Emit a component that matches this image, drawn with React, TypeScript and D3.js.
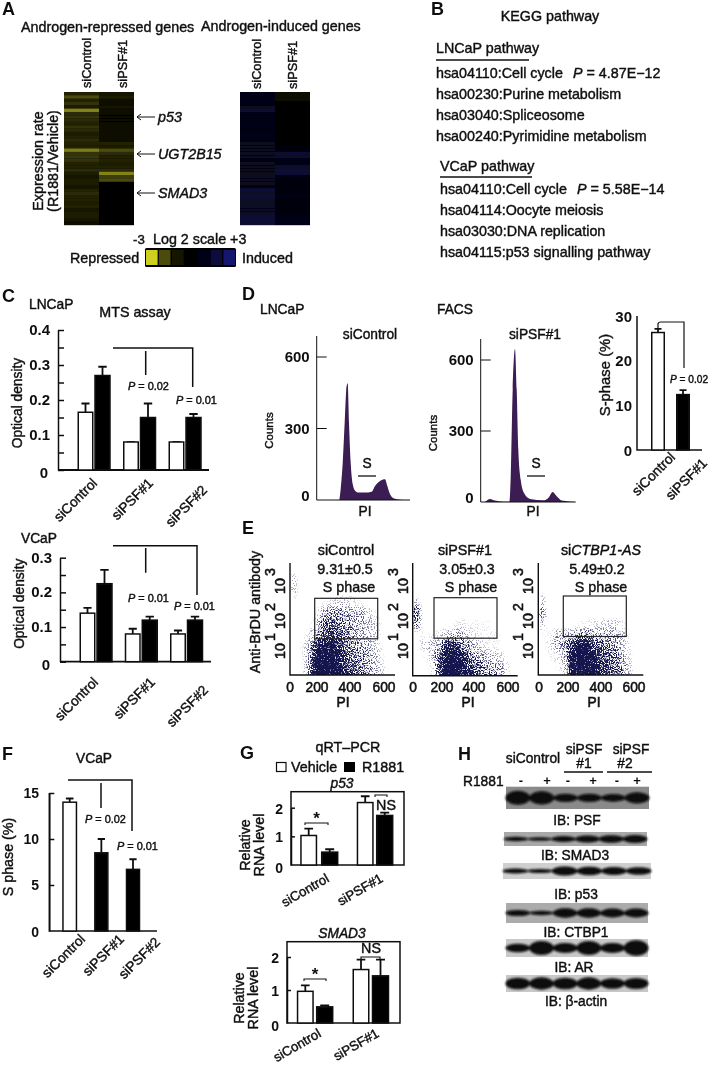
import { useEffect, useRef } from "react"
import * as d3 from "d3"

// Panel A heat map, log2 values per row (negative = repressed/yellow, positive = induced/blue)
const repressedControl = [-0.5, -1.1, -0.5, -0.7, -0.4, -1.9, -0.6, -0.7, -0.6, -0.5, -0.7, -0.6, -0.4, -0.5, -0.6, -0.5, -0.5, -1.8, -0.7, -0.8, -0.7, -0.5, -0.5, -0.6, -0.4, -0.3, -0.4, -0.4, -0.3, -0.5, -0.6, -0.5, -0.5, -0.4, -0.5, -0.3, -0.4, -0.4, -0.3, -0.2]
const repressedPsf = [-0.3, -0.4, -0.2, -0.2, -0.3, -0.15, -0.1, -0.1, -0.1, -0.15, -0.2, -0.2, -0.15, -0.15, -0.2, -0.5, -0.4, -1.1, -0.6, -0.5, -0.5, -0.4, -0.5, -0.6, -1.9, -0.9, -1.1, 0, -0.05, 0, 0, -0.05, 0, -0.05, 0, 0, 0, 0, 0, 0]
const inducedControl = [0.2, 0.2, 0.2, 0.25, 0.3, 0.5, 0.25, 0.2, 0.2, 0.2, 0.2, 0.2, 0.25, 0.25, 0.2, 0.3, 0.3, 0.3, 0.35, 0.3, 0.25, 0.3, 0.3, 0.3, 0.3, 0.35, 0.3, 0.3, 0.25, 0.6, 0.4, 0.6, 0.4, 0.35, 0.4, 0.35, 0.4, 0.5, 0.6, 0.5]
const inducedPsf = [-0.1, -0.2, -0.1, -0.05, 0, 0, 0, 0, 0, 0, 0, 0, 0, 0, 0, 0.05, 0.1, 0.15, 0.5, 0.4, 0.25, 0.25, 0.45, 0.55, 0.5, 0.2, 0.15, 0.1, 0.1, 0.15, 0.15, 0.2, 0.1, 0.1, 0.15, 0.1, 0.15, 0.2, 0.25, 0.2]
const heatLegend = [-3, -1.1, -0.3, 0, 0.2, 0.6, 1.1]

// Panel B
const lncapPathways = ["hsa04110:Cell cycle", "hsa00230:Purine metabolism", "hsa03040:Spliceosome", "hsa00240:Pyrimidine metabolism"]
const vcapPathways = ["hsa04110:Cell cycle", "hsa04114:Oocyte meiosis", "hsa03030:DNA replication", "hsa04115:p53 signalling pathway"]

// Panel C, MTS assay
const mtsGroups = ["siControl", "siPSF#1", "siPSF#2"]
const lncapVehicle = [0.165, 0.08, 0.08]
const lncapVehicleErr = [0.19, 0.08, 0.08]
const lncapR1881 = [0.27, 0.15, 0.15]
const lncapR1881Err = [0.295, 0.19, 0.16]
const vcapVehicle = [0.14, 0.08, 0.08]
const vcapVehicleErr = [0.155, 0.095, 0.09]
const vcapR1881 = [0.225, 0.12, 0.12]
const vcapR1881Err = [0.265, 0.13, 0.13]

// Panel D, cell cycle profiles: PI channel (0-100) against counts
const controlChannel = [24.3, 25.7, 27.9, 30, 32.1, 33.2, 34.6, 36.4, 38.6, 41, 44.6, 51.8, 58.9, 62.5, 67.9, 73.2, 75.7, 78.6, 82.9, 89.3, 100]
const controlCounts = [0, 45, 157, 325, 479, 490, 325, 157, 66, 40, 31, 31, 35, 59, 80, 87, 59, 24, 6, 1, 0]
const psfChannel = [4.6, 9.8, 15, 23.9, 30.2, 31.6, 33.7, 36.1, 37.9, 39.6, 42.1, 45.6, 51.9, 66, 71.2, 75.8, 80, 85.3, 100]
const psfCounts = [0, 13, 6, 1, 1, 108, 474, 646, 474, 221, 94, 38, 13, 7, 17, 42, 24, 6, 0]
const sPhaseGroups = ["siControl", "siPSF#1"]
const sPhaseValues = [26.5, 12.5]
const sPhaseErr = [27.3, 13.5]

// Panel E, dot density: rows top to bottom, columns by PI in steps of 50
const densityControl = [
  [0.05, 0.02],
  [0.25, 0],
  [0.25, 0, 0, 0.02, 0.02, 0.02, 0.05, 0.05, 0.03, 0.02],
  [0.12, 0, 0, 0.05, 0.1, 0.15, 0.2, 0.2, 0.15, 0.1, 0.05, 0.02],
  [0.03, 0, 0, 0.1, 0.3, 0.4, 0.4, 0.35, 0.3, 0.3, 0.2, 0.1, 0.03],
  [0.02, 0, 0.05, 0.2, 0.5, 0.6, 0.5, 0.4, 0.35, 0.3, 0.25, 0.2, 0.05],
  [0.03, 0.05, 0.15, 0.3, 0.6, 0.7, 0.55, 0.45, 0.35, 0.3, 0.25, 0.2, 0.08],
  [0.03, 0.1, 0.25, 0.7, 0.9, 0.9, 0.7, 0.5, 0.4, 0.35, 0.3, 0.2, 0.08],
  [0.02, 0.08, 0.3, 0.95, 1, 1, 0.8, 0.6, 0.5, 0.4, 0.35, 0.25, 0.1, 0.02],
  [0.02, 0.05, 0.35, 1, 1, 1, 0.9, 0.7, 0.55, 0.45, 0.35, 0.25, 0.15, 0.03],
  [0.02, 0.05, 0.4, 1, 1, 1, 0.95, 0.75, 0.6, 0.5, 0.4, 0.3, 0.15, 0.03],
]
const densityPsf = [
  [],
  [],
  [],
  [0.25, 0.02, 0, 0.01, 0.01, 0.01, 0.02, 0.02, 0.02, 0.01],
  [0.6, 0.02, 0, 0.02, 0.02, 0.03, 0.05, 0.04, 0.05, 0.05, 0.03],
  [0.45, 0.03, 0.02, 0.03, 0.05, 0.1, 0.15, 0.1, 0.12, 0.1, 0.1, 0.05],
  [0.1, 0.1, 0.1, 0.15, 0.25, 0.3, 0.3, 0.2, 0.15, 0.12, 0.12, 0.1, 0.03],
  [0.05, 0.2, 0.25, 0.3, 0.7, 0.8, 0.5, 0.35, 0.25, 0.15, 0.12, 0.1, 0.05],
  [0.03, 0.1, 0.2, 0.5, 1, 1, 0.8, 0.5, 0.4, 0.3, 0.25, 0.2, 0.1],
  [0.02, 0.05, 0.12, 0.55, 1, 1, 1, 0.7, 0.55, 0.4, 0.35, 0.35, 0.2, 0.02],
  [0.02, 0.03, 0.1, 0.6, 1, 1, 1, 0.85, 0.7, 0.55, 0.45, 0.35, 0.2, 0.03],
]
const densityCtbp = [
  [],
  [],
  [0.1],
  [0.25, 0, 0, 0.01, 0.02, 0.02, 0.02, 0.02],
  [0.4, 0, 0.02, 0.02, 0.02, 0.03, 0.05, 0.05, 0.05, 0.03, 0.02],
  [0.25, 0.02, 0.03, 0.03, 0.05, 0.1, 0.12, 0.15, 0.2, 0.2, 0.2, 0.1, 0.03],
  [0.1, 0.1, 0.3, 0.25, 0.3, 0.4, 0.4, 0.35, 0.3, 0.3, 0.3, 0.2, 0.05],
  [0.05, 0.15, 0.3, 0.35, 0.7, 1, 1, 0.6, 0.5, 0.45, 0.35, 0.2, 0.1],
  [0.03, 0.1, 0.15, 0.25, 0.9, 1, 1, 0.8, 0.65, 0.55, 0.45, 0.25, 0.1],
  [0.02, 0.05, 0.1, 0.2, 0.9, 1, 1, 0.95, 0.7, 0.6, 0.5, 0.35, 0.15, 0.02],
  [0.02, 0.05, 0.05, 0.2, 0.9, 1, 1, 1, 0.75, 0.65, 0.5, 0.35, 0.15, 0.03],
]
const piTicks = [0, 200, 400, 600]

// Panel F
const vcapPhaseValues = [14, 8.5, 6.7]
const vcapPhaseErr = [14.4, 10, 7.8]

// Panel G, qRT-PCR
const pcrGroups = ["siControl", "siPSF#1"]
const p53Vehicle = [1.03, 2.18]
const p53VehicleErr = [1.27, 2.4]
const p53R1881 = [0.45, 1.73]
const p53R1881Err = [0.55, 1.83]
const smad3Vehicle = [0.96, 1.62]
const smad3VehicleErr = [1.14, 1.92]
const smad3R1881 = [0.49, 1.43]
const smad3R1881Err = [0.53, 1.92]

// Panel H, band strength per lane
const r1881Signs = ["-", "+", "-", "+", "-", "+"]
const psfBands = [1, 0.95, 0.6, 0.6, 0.55, 0.8]
const smad3Bands = [0.45, 0.35, 0.6, 0.7, 0.75, 0.8]
const p53Bands = [0.5, 0.4, 0.9, 0.85, 0.8, 0.75]
const ctbp1Bands = [0.55, 0.4, 0.85, 0.85, 0.8, 0.8]
const arBands = [0.6, 1, 0.7, 1, 0.7, 1.1]
const actinBands = [0.9, 0.95, 0.9, 0.95, 0.8, 0.85]

const FONT = "'Liberation Sans', Arial, sans-serif"

const App = () => {
  const svgRef = useRef(null)

  useEffect(() => {
    const svg = d3.select(svgRef.current)
    svg.selectAll("*").remove()

    const defs = svg.append("defs")
    const soft = defs.append("filter").attr("id", "soft").attr("x", 0).attr("y", 0).attr("width", "100%").attr("height", "100%")
    soft.append("feGaussianBlur").attr("stdDeviation", 0.45)
    const band = defs.append("filter").attr("id", "band").attr("x", "-20%").attr("y", "-60%").attr("width", "140%").attr("height", "220%")
    band.append("feGaussianBlur").attr("stdDeviation", 1.3)

    // dithers a blurred density field into specks
    const speck = defs
      .append("filter")
      .attr("id", "speck")
      .attr("x", "-5%")
      .attr("y", "-5%")
      .attr("width", "110%")
      .attr("height", "110%")
      .attr("color-interpolation-filters", "sRGB")
    speck.append("feGaussianBlur").attr("in", "SourceAlpha").attr("stdDeviation", 2.5).attr("result", "field")
    speck.append("feTurbulence").attr("type", "fractalNoise").attr("baseFrequency", 0.85).attr("numOctaves", 2).attr("seed", 4).attr("result", "noise")
    speck
      .append("feColorMatrix")
      .attr("in", "noise")
      .attr("type", "matrix")
      .attr("values", "0 0 0 0 0  0 0 0 0 0  0 0 0 0 0  2.8 0 0 0 -0.75")
      .attr("result", "grain")
    speck.append("feComposite").attr("in", "field").attr("in2", "grain").attr("operator", "arithmetic").attr("k1", 0).attr("k2", 1.3).attr("k3", 1).attr("k4", -1.1).attr("result", "mix")
    const steep = speck.append("feComponentTransfer").attr("in", "mix").attr("result", "dots")
    steep.append("feFuncA").attr("type", "linear").attr("slope", 2.5)
    speck.append("feFlood").attr("flood-color", "#17174f").attr("result", "ink")
    speck.append("feComposite").attr("in", "ink").attr("in2", "dots").attr("operator", "in")

    const root = svg.append("g").attr("filter", "url(#soft)")
    root.append("rect").attr("width", 712).attr("height", 1068).attr("fill", "white")

    const label = (x, y, str, o: any = {}) => {
      const t = root
        .append("text")
        .attr("x", x)
        .attr("y", y)
        .attr("font-family", FONT)
        .attr("font-size", o.bold ? o.size || 13 : (o.size || 13) * 1.06)
        .attr("font-weight", o.bold ? 700 : 400)
        .attr("font-style", o.italic ? "italic" : "normal")
        .attr("text-anchor", o.anchor || "start")
        .attr("fill", "#111")
        .attr("stroke", "#111")
        .attr("stroke-width", o.bold ? 0 : o.stroke ?? 0.42)
        .text(str)
      if (o.rotate) t.attr("transform", `rotate(${o.rotate},${x},${y})`)
      return t
    }
    const pValue = (x, y, rest, size = 10.3) => {
      const t = label(x, y, "", { size })
      t.append("tspan").attr("font-style", "italic").text("P")
      t.append("tspan").text(rest)
    }
    const seg = (path, width = 1.5) => {
      root.append("path").attr("d", path).attr("fill", "none").attr("stroke", "#111").attr("stroke-width", width)
    }
    const panelLetter = (x, y, s) => label(x, y, s, { size: 18, bold: true })

    // ---------- A
    panelLetter(2, 15, "A")
    label(21, 32, "Androgen-repressed genes", { size: 13.5 })
    label(201, 31, "Androgen-induced genes", { size: 13.5 })

    const heatColor = (v) => (v < 0 ? d3.interpolateRgb("#000000", "#cfcf22")(Math.min(1, -v / 3)) : d3.interpolateRgb("#000000", "#1f1f8c")(Math.min(1, v / 1.4)))
    const heatmap = (left, columns) => {
      const x = d3.scaleBand().domain(d3.range(2)).range([left, left + 70])
      const y = d3.scaleBand().domain(d3.range(40)).range([92, 225])
      root.append("rect").attr("x", left).attr("y", 92).attr("width", 70).attr("height", 133).attr("fill", "#000")
      columns.forEach((col, c) => {
        root
          .append("g")
          .selectAll("rect")
          .data(col)
          .join("rect")
          .attr("x", x(c))
          .attr("y", (_, i) => y(i))
          .attr("width", x.bandwidth())
          .attr("height", y.bandwidth() + 0.2)
          .attr("fill", (d) => heatColor(d))
      })
    }
    heatmap(64, [repressedControl, repressedPsf])
    heatmap(240, [inducedControl, inducedPsf])

    label(91, 88, "siControl", { size: 12, rotate: -90 })
    label(127, 88, "siPSF#1", { size: 12, rotate: -90 })
    label(261, 89, "siControl", { size: 12, rotate: -90 })
    label(297, 89, "siPSF#1", { size: 12, rotate: -90 })
    label(43, 161, "Expression rate", { size: 13.5, anchor: "middle", rotate: -90 })
    label(58, 161, "(R1881/Vehicle)", { size: 13.5, anchor: "middle", rotate: -90 })

    ;[
      ["p53", 117],
      ["UGT2B15", 154],
      ["SMAD3", 193],
    ].forEach(([gene, yy]: any) => {
      seg(`M155,${yy}H137M141,${yy - 3}L137,${yy}L141,${yy + 3}`, 1)
      label(158, yy + 5, gene, { size: 13.5, italic: true })
    })

    label(133, 244, "-3", { size: 12.5 })
    label(153, 244, "Log 2 scale +3", { size: 13.5 })
    label(70, 263, "Repressed", { size: 13.5 })
    label(242, 263, "Induced", { size: 13.5 })
    root.append("rect").attr("x", 145).attr("y", 248).attr("width", 91).attr("height", 19).attr("rx", 1.5).attr("fill", "#000")
    const legendX = d3.scaleBand().domain(d3.range(heatLegend.length)).range([146, 235]).paddingInner(0.1)
    root
      .append("g")
      .selectAll("rect")
      .data(heatLegend)
      .join("rect")
      .attr("x", (_, i) => legendX(i))
      .attr("y", 250)
      .attr("width", legendX.bandwidth())
      .attr("height", 15)
      .attr("fill", (d) => heatColor(d))

    // ---------- B
    panelLetter(431, 15, "B")
    label(550, 21, "KEGG pathway", { size: 13.5, anchor: "middle" })
    const pathwayBlock = (x, yTitle, name, yUnder, under, items, yFirst, pX, pText) => {
      label(x, yTitle, name, { size: 13.5 })
      seg(`M${x},${yUnder}H${under}`, 1.4)
      const rows = d3.scaleLinear().domain([0, 3]).range([yFirst, yFirst + 62.5])
      items.forEach((s, i) => label(x, rows(i), s, { size: 13.5 }))
      pValue(pX, yFirst, pText, 13.5)
    }
    pathwayBlock(436, 53, "LNCaP pathway", 60, 529, lncapPathways, 78, 573, " = 4.87E\u221212")
    pathwayBlock(440, 171, "VCaP pathway", 177, 532, vcapPathways, 194, 577, " = 5.58E\u221214")

    // ---------- bar helpers
    const valueAxis = (x, y, ticks, len = 6, w = 1.5) => {
      const g = root.append("g").attr("transform", `translate(${x},0)`)
      g.call(d3.axisRight(y).tickValues(ticks).tickSize(len).tickFormat(() => "").tickSizeOuter(0))
      g.selectAll("line,path").attr("stroke", "#111").attr("stroke-width", w)
    }
    const bars = (x, y, w, values, errs, fill) => {
      const g = root.append("g")
      values.forEach((v, i) => {
        g.append("path")
          .attr("d", `M${x(i)},${y(errs[i])}V${y(v)}M${x(i) - w * 0.28},${y(errs[i])}H${x(i) + w * 0.28}`)
          .attr("stroke", "#111")
          .attr("stroke-width", 1.8)
          .attr("fill", "none")
        g.append("rect")
          .attr("x", x(i) - w / 2)
          .attr("y", y(v))
          .attr("width", w)
          .attr("height", y(0) - y(v))
          .attr("fill", fill)
          .attr("stroke", "#111")
          .attr("stroke-width", 1.5)
      })
    }
    const slanted = (x, y, s, angle = -45, size = 13) => label(x, y, s, { size, anchor: "end", rotate: angle })

    // ---------- C
    panelLetter(2, 302, "C")
    label(29, 309, "LNCaP", { size: 13 })
    label(135, 317, "MTS assay", { size: 13.5, anchor: "middle" })

    const mtsPanel = (cfg) => {
      const y = d3.scaleLinear().domain([0, cfg.max]).range([cfg.y0, cfg.yTop])
      const g = d3.scalePoint().domain(d3.range(3)).range(cfg.centers)
      seg(`M${cfg.axisX},${y(0)}H${cfg.axisEnd}`, 1.8)
      valueAxis(cfg.axisX, y, d3.range(0, cfg.max + 0.001, 0.05))
      bars((i) => g(i) - 8.5, y, 14.5, cfg.vehicle, cfg.vehicleErr, "white")
      bars((i) => g(i) + 8.5, y, 15, cfg.r1881, cfg.r1881Err, "#000")
      d3.range(0, cfg.max + 0.001, 0.1).forEach((v) => {
        label(v === 0 ? cfg.axisX - 10 : cfg.axisX - 8, y(v) + (v === 0 ? 8 : 5), v === 0 ? "0" : d3.format(".1f")(v), { size: 15, bold: true, anchor: "end" })
      })
      label(cfg.axisX - 36, (y(0) + y(cfg.max)) / 2 + 3 + cfg.labelShift, "Optical density", { size: 13, anchor: "middle", rotate: -90 })
      mtsGroups.forEach((s, i) => slanted(cfg.labelEnds[i][0], cfg.labelEnds[i][1], s))
    }
    mtsPanel({ max: 0.4, y0: 470, yTop: 330, axisX: 58, axisEnd: 209, centers: [94, 185], vehicle: lncapVehicle, vehicleErr: lncapVehicleErr, r1881: lncapR1881, r1881Err: lncapR1881Err, labelShift: 0, labelEnds: [[98, 484], [154, 484], [208, 491]] })
    seg("M113,348H192.7V387M145.7,351V375")
    pValue(128, 390, " = 0.02")
    pValue(176, 404, " = 0.01")

    label(21, 543, "VCaP", { size: 13 })
    mtsPanel({ max: 0.3, y0: 661.7, yTop: 557.7, axisX: 60, axisEnd: 211, centers: [96, 186.5], vehicle: vcapVehicle, vehicleErr: vcapVehicleErr, r1881: vcapR1881, r1881Err: vcapR1881Err, labelShift: -9, labelEnds: [[99, 683], [156, 683], [209, 691]] })
    seg("M113,545.7H197V595M145.7,548V572.7")
    pValue(128, 601.7, " = 0.01")
    pValue(174, 610, " = 0.01")

    // ---------- D
    panelLetter(242, 300, "D")
    label(260, 314, "LNCaP", { size: 13 })
    label(437, 314, "FACS", { size: 13 })
    const histogram = (cfg) => {
      const x = d3.scaleLinear().domain([0, 100]).range([cfg.left, cfg.right])
      const y = d3.scaleLinear().domain([0, 600]).range([cfg.y0, cfg.y600])
      const area = d3
        .area()
        .x((d) => x(d[0]))
        .y0(y(0))
        .y1((d) => y(d[1]))
        .curve(d3.curveMonotoneX)
      root.append("path").datum(d3.zip(cfg.channel, cfg.counts)).attr("d", area).attr("fill", "#3a1a52")
      seg(`M${cfg.left},${cfg.top}V${y(0)}H${cfg.right}`, 1)
      root
        .append("g")
        .selectAll("line")
        .data([300, 600])
        .join("line")
        .attr("x1", cfg.left)
        .attr("x2", cfg.left + 10)
        .attr("y1", (d) => y(d))
        .attr("y2", (d) => y(d))
        .attr("stroke", "#111")
      ;[0, 300, 600].forEach((v) => label(cfg.left - 7, y(v) + (v === 0 ? 1 : 5), String(v), { size: 15, bold: true, anchor: "end" }))
      label(cfg.left - 43.5, (cfg.y0 + cfg.y600) / 2 + 2, "Counts", { size: 10.8, anchor: "middle", rotate: -90 })
      label(cfg.titleX, 339, cfg.title, { size: 13, anchor: "middle" })
      label(cfg.sX, 468, "S", { size: 13, anchor: "middle" })
      seg(`M${cfg.sX - 9},476H${cfg.sX + 9}`, 1.3)
      label(cfg.piX, 516, "PI", { size: 13, anchor: "middle" })
    }
    histogram({ left: 316.7, right: 410, top: 336, y0: 500, y600: 357, channel: controlChannel, counts: controlCounts, titleX: 370, title: "siControl", sX: 367, piX: 365 })
    histogram({ left: 480.7, right: 575.7, top: 339, y0: 502, y600: 360, channel: psfChannel, counts: psfCounts, titleX: 535, title: "siPSF#1", sX: 536, piX: 533 })

    const sY = d3.scaleLinear().domain([0, 30]).range([450, 317])
    const sX = d3.scalePoint().domain(d3.range(2)).range([658, 683])
    seg(`M637,316V450H702`, 1.5)
    bars((i) => sX(i), sY, 12.5, sPhaseValues.slice(0, 1), sPhaseErr.slice(0, 1), "white")
    bars((i) => sX(i + 1), sY, 12.5, sPhaseValues.slice(1), sPhaseErr.slice(1), "#000")
    ;[0, 10, 20, 30].forEach((v) => label(632, sY(v) + (v === 0 ? 6 : 5), String(v), { size: 15, bold: true, anchor: "end" }))
    label(610, 375, "S-phase (%)", { size: 14, anchor: "middle", rotate: -90 })
    seg("M658,329V324Q658,322 661,322H684V368", 1.2)
    pValue(670, 383, " = 0.02", 9.6)
    sPhaseGroups.forEach((s, i) => slanted(i === 0 ? 676 : 708, i === 0 ? 458 : 464, s))

    // ---------- E
    panelLetter(242, 534, "E")
    label(260, 612, "Anti-BrDU antibody", { size: 13.5, anchor: "middle", rotate: -90 })
    const densityRows = d3.range(11)
    const densityCols = d3.range(14)
    const scatter = (cfg, idx) => {
      const colBand = d3.scaleBand().domain(densityCols).range([cfg.left, cfg.left + 105])
      const rowBand = d3.scaleBand().domain(densityRows).range([563, 684])
      defs.append("clipPath").attr("id", `plot${idx}`).append("rect").attr("x", cfg.left).attr("y", 556).attr("width", 108).attr("height", cfg.bottom - 556)
      const cloud = root.append("g").attr("clip-path", `url(#plot${idx})`).append("g").attr("filter", "url(#speck)")
      cfg.density.forEach((row, r) => {
        row.forEach((v, c) => {
          if (v > 0)
            cloud
              .append("rect")
              .attr("x", colBand(c))
              .attr("y", rowBand(r))
              .attr("width", colBand.bandwidth())
              .attr("height", rowBand.bandwidth())
              .attr("fill", "#000")
              .attr("fill-opacity", v)
        })
      })
      root.append("rect").attr("x", cfg.boxX).attr("y", cfg.boxY).attr("width", 63).attr("height", 40.5).attr("fill", "none").attr("stroke", "#222").attr("stroke-width", 1.2)
      seg(`M${cfg.left},563V${cfg.bottom}H${cfg.left + 105}`, 1.4)
      piTicks.forEach((v, i) => label(cfg.tickX[i], 692, String(v), { size: 13, anchor: "middle", stroke: 0.55 }))
      label(cfg.piX, 707, "PI", { size: 13, anchor: "middle", stroke: 0.55 })
      const titleT = label(cfg.titleX, 555, "", { size: 13.5, anchor: "middle" })
      cfg.title.forEach(([s, it]) => titleT.append("tspan").attr("font-style", it ? "italic" : "normal").text(s))
      label(cfg.valueX, 574, cfg.value, { size: 13.5, anchor: "middle" })
      label(cfg.phaseX, 592, "S phase", { size: 13.5, anchor: "middle" })
      ;[
        [586, 3],
        [621, 2],
        [651, 1],
      ].forEach(([yy, p]) => {
        label(cfg.expX, yy, "10", { size: 13.5, anchor: "middle", rotate: -90, stroke: 0.55 })
        label(cfg.expX - 10, yy - 14, String(p), { size: 13.5, anchor: "middle", rotate: -90, stroke: 0.55 })
      })
    }
    scatter({ left: 290, bottom: 675, density: densityControl, boxX: 314.7, boxY: 598.3, tickX: [290, 317, 350, 384], piX: 343, titleX: 346, title: [["siControl", false]], valueX: 345, value: "9.31\u00b10.5", phaseX: 349, expX: 285 }, 0)
    scatter({ left: 412.7, bottom: 675.7, density: densityPsf, boxX: 434, boxY: 597.7, tickX: [413, 442, 474, 508], piX: 468, titleX: 465, title: [["siPSF#1", false]], valueX: 467, value: "3.05\u00b10.3", phaseX: 471, expX: 408 }, 1)
    scatter({ left: 538.3, bottom: 675, density: densityCtbp, boxX: 563.3, boxY: 596, tickX: [539, 568, 601, 634], piX: 594, titleX: 601, title: [["si", false], ["CTBP1-AS", true]], valueX: 597, value: "5.49\u00b10.2", phaseX: 601, expX: 533 }, 2)

    // ---------- F
    panelLetter(2, 760, "F")
    label(94, 763, "VCaP", { size: 13, anchor: "middle" })
    const fY = d3.scaleLinear().domain([0, 15]).range([931, 793])
    const fX = d3.scalePoint().domain(d3.range(3)).range([69.7, 133])
    seg("M49.3,793V931H157", 1.5)
    valueAxis(49.3, fY, [5, 10, 15], 5, 1.5)
    bars((i) => fX(i), fY, 13.5, vcapPhaseValues.slice(0, 1), vcapPhaseErr.slice(0, 1), "white")
    bars((i) => fX(i + 1), fY, 13, vcapPhaseValues.slice(1), vcapPhaseErr.slice(1), "#000")
    ;[0, 5, 10, 15].forEach((v) => label(39, fY(v) + 5 + (v === 0 ? 1 : 0), String(v), { size: 14, bold: true, anchor: "end" }))
    label(13, 857, "S phase (%)", { size: 13.5, anchor: "middle", rotate: -90 })
    seg("M68,780H132V831M101,783V808")
    pValue(85, 823, " = 0.02")
    pValue(117, 850, " = 0.01")
    mtsGroups.forEach((s, i) => slanted([86, 125, 161][i], [940, 940, 943][i], s))

    // ---------- G
    panelLetter(240, 759, "G")
    label(348, 752, "qRT\u2013PCR", { size: 13.5, anchor: "middle" })
    root.append("rect").attr("x", 276.5).attr("y", 762.5).attr("width", 9.5).attr("height", 9).attr("fill", "white").attr("stroke", "#111").attr("stroke-width", 1.2)
    label(291, 772, "Vehicle", { size: 13.5 })
    root.append("rect").attr("x", 344).attr("y", 762).attr("width", 11).attr("height", 10).attr("fill", "#000")
    label(362, 772, "R1881", { size: 13.5 })

    const pcrPanel = (cfg) => {
      const y = d3.scaleLinear().domain([0, 2]).range([cfg.y0, cfg.y2])
      root.append("rect").attr("x", cfg.left).attr("y", cfg.top).attr("width", cfg.right - cfg.left).attr("height", cfg.y0 - cfg.top).attr("fill", "none").attr("stroke", "#111").attr("stroke-width", 1.5)
      valueAxis(cfg.left, y, [1, 2], 4, 1.5)
      bars((i) => cfg.vehicleX[i], y, 15.5, cfg.vehicle, cfg.vehicleErr, "white")
      bars((i) => cfg.r1881X[i], y, 16, cfg.r1881, cfg.r1881Err, "#000")
      ;[0, 1, 2].forEach((v) => label(cfg.left - 8, y(v) + 6 + (v === 0 ? 2 : 0), String(v), { size: 14, bold: true, anchor: "end" }))
      label(cfg.relX, cfg.midY, "Relative", { size: 13.5, anchor: "middle", rotate: -90 })
      label(cfg.relX + 13.5, cfg.midY, "RNA level", { size: 13.5, anchor: "middle", rotate: -90 })
      label(342, cfg.top - 4, cfg.gene, { size: 13, italic: true, anchor: "middle" })
      pcrGroups.forEach((s, i) => slanted(cfg.labelEnds[i][0], cfg.labelEnds[i][1], s, -30, 12.5))
      seg(`M${cfg.starA},${cfg.starY + 2}V${cfg.starY}H${cfg.starB}V${cfg.starY + 2}`, 1.1)
      label((cfg.starA + cfg.starB) / 2, cfg.starY + 1, "*", { size: 17, bold: true, anchor: "middle" })
      seg(`M${cfg.nsA},${cfg.nsY + 2}V${cfg.nsY}H${cfg.nsB}V${cfg.nsY + 2}`, 1.1)
      label(cfg.nsX, cfg.nsBase, "NS", { size: 13.5, anchor: "middle" })
    }
    pcrPanel({ left: 291, right: 404, top: 791.7, y0: 865, y2: 807.7, vehicle: p53Vehicle, vehicleErr: p53VehicleErr, r1881: p53R1881, r1881Err: p53R1881Err, vehicleX: [308.7, 365.2], r1881X: [329.7, 384.7], relX: 250, midY: 845, gene: "p53", labelEnds: [[330, 881], [384, 881]], starA: 305, starB: 328, starY: 823, nsA: 375, nsB: 387, nsY: 795, nsX: 386, nsBase: 810 })
    pcrPanel({ left: 287, right: 400, top: 941.7, y0: 1023, y2: 957, vehicle: smad3Vehicle, vehicleErr: smad3VehicleErr, r1881: smad3R1881, r1881Err: smad3R1881Err, vehicleX: [305.3, 361], r1881X: [324.7, 380.5], relX: 244, midY: 998, gene: "SMAD3", labelEnds: [[322, 1036], [380, 1036]], starA: 304, starB: 326, starY: 979, nsA: 361, nsB: 380, nsY: 957, nsX: 371, nsBase: 953 })

    // ---------- H
    panelLetter(458, 760, "H")
    label(533, 763, "siControl", { size: 13, anchor: "middle" })
    label(584, 754, "siPSF", { size: 13, anchor: "middle" })
    label(584, 768, "#1", { size: 13, anchor: "middle" })
    label(631, 754, "siPSF", { size: 13, anchor: "middle" })
    label(625, 768, "#2", { size: 13, anchor: "middle" })
    seg("M564,772H603M607,772H652", 1.6)
    label(463, 786, "R1881", { size: 13 })
    ;[521, 547, 568, 593, 617, 637].forEach((xx, i) => label(xx, 785, r1881Signs[i], { size: 13, bold: true, anchor: "middle" }))

    const blots = [
      { name: "IB: PSF", bands: psfBands, x0: 506, x1: 649, y0: 786.7, y1: 809, bg: "#8a8a8a", h: 7, labelX: 577, labelY: 825 },
      { name: "IB: SMAD3", bands: smad3Bands, x0: 504, x1: 647, y0: 832, y1: 846, bg: "#a8a8a8", h: 5, labelX: 575, labelY: 860 },
      { name: "IB: p53", bands: p53Bands, x0: 503, x1: 651, y0: 863, y1: 879, bg: "#cfcfcf", h: 5, labelX: 576, labelY: 899 },
      { name: "IB: CTBP1", bands: ctbp1Bands, x0: 506, x1: 648, y0: 903, y1: 923, bg: "#ababab", h: 5.5, labelX: 576, labelY: 937 },
      { name: "IB: AR", bands: arBands, x0: 506, x1: 648, y0: 939, y1: 957, bg: "#c8c8c8", h: 7, labelX: 574, labelY: 972 },
      { name: "IB: \u03b2-actin", bands: actinBands, x0: 506, x1: 648, y0: 975, y1: 992, bg: "#c8c8c8", h: 6.5, labelX: 576, labelY: 1006 },
    ]
    blots.forEach((b) => {
      root.append("rect").attr("x", b.x0).attr("y", b.y0).attr("width", b.x1 - b.x0).attr("height", b.y1 - b.y0).attr("fill", b.bg)
      const lane = d3.scaleBand().domain(d3.range(6)).range([b.x0, b.x1]).paddingInner(0)
      root
        .append("g")
        .attr("filter", "url(#band)")
        .selectAll("ellipse")
        .data(b.bands)
        .join("ellipse")
        .attr("cx", (_, i) => lane(i) + lane.bandwidth() / 2)
        .attr("cy", (b.y0 + b.y1) / 2)
        .attr("rx", lane.bandwidth() * 0.52)
        .attr("ry", (d) => d * b.h)
        .attr("fill", "#0a0a0a")
      label(b.labelX, b.labelY, b.name, { size: 13, anchor: "middle" })
    })
  }, [])

  return <svg ref={svgRef} width={712} height={1068} style={{ position: "absolute", left: 0, top: 0 }}></svg>
}

export default App
